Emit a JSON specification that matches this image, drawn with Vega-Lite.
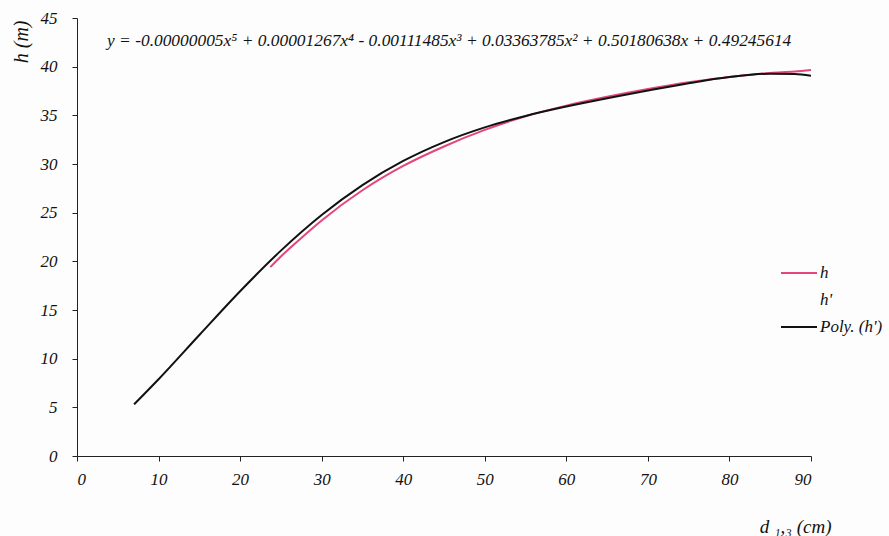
{
  "$schema": "https://vega.github.io/schema/vega-lite/v6.json",
  "width": 734,
  "height": 438,
  "autosize": {"type": "none"},
  "padding": {"left": 77, "top": 18, "right": 78, "bottom": 80},
  "background": "#fdfdfd",
  "title": {
    "text": "y = -0.00000005x⁵ + 0.00001267x⁴ - 0.00111485x³ + 0.03363785x² + 0.50180638x + 0.49245614",
    "anchor": "start",
    "frame": "group",
    "orient": "top",
    "offset": -40,
    "dx": 30,
    "font": "Liberation Serif",
    "fontSize": 17.4,
    "fontStyle": "italic",
    "fontWeight": "normal",
    "color": "#111111"
  },
  "config": {"view": {"stroke": null}, "font": "Liberation Serif"},
  "data": {
    "values": [
      {"series": "h", "d": 23.7, "h": 19.4},
      {"series": "h", "d": 25, "h": 20.5},
      {"series": "h", "d": 27.5, "h": 22.4},
      {"series": "h", "d": 30, "h": 24.2},
      {"series": "h", "d": 35, "h": 27.3},
      {"series": "h", "d": 40, "h": 29.8},
      {"series": "h", "d": 45, "h": 31.8},
      {"series": "h", "d": 50, "h": 33.5},
      {"series": "h", "d": 55, "h": 34.9},
      {"series": "h", "d": 60, "h": 36.0},
      {"series": "h", "d": 65, "h": 36.9},
      {"series": "h", "d": 70, "h": 37.7},
      {"series": "h", "d": 75, "h": 38.4},
      {"series": "h", "d": 80, "h": 38.95},
      {"series": "h", "d": 85, "h": 39.35},
      {"series": "h", "d": 88, "h": 39.5},
      {"series": "h", "d": 90, "h": 39.65},
      {"series": "Poly. (h')", "d": 7, "h": 5.3},
      {"series": "Poly. (h')", "d": 10, "h": 7.88},
      {"series": "Poly. (h')", "d": 15, "h": 12.43},
      {"series": "Poly. (h')", "d": 20, "h": 16.93},
      {"series": "Poly. (h')", "d": 25, "h": 21.1},
      {"series": "Poly. (h')", "d": 30, "h": 24.76},
      {"series": "Poly. (h')", "d": 35, "h": 27.83},
      {"series": "Poly. (h')", "d": 40, "h": 30.31},
      {"series": "Poly. (h')", "d": 45, "h": 32.25},
      {"series": "Poly. (h')", "d": 50, "h": 33.76},
      {"series": "Poly. (h')", "d": 55, "h": 34.94},
      {"series": "Poly. (h')", "d": 60, "h": 35.9},
      {"series": "Poly. (h')", "d": 65, "h": 36.75},
      {"series": "Poly. (h')", "d": 70, "h": 37.55},
      {"series": "Poly. (h')", "d": 75, "h": 38.3},
      {"series": "Poly. (h')", "d": 80, "h": 38.93},
      {"series": "Poly. (h')", "d": 85, "h": 39.28},
      {"series": "Poly. (h')", "d": 88, "h": 39.24},
      {"series": "Poly. (h')", "d": 90, "h": 39.07}
    ]
  },
  "mark": {"type": "line", "interpolate": "monotone", "strokeWidth": 2},
  "encoding": {
    "x": {
      "field": "d",
      "type": "quantitative",
      "scale": {"domain": [0, 90], "nice": false},
      "axis": {
        "values": [0, 10, 20, 30, 40, 50, 60, 70, 80, 90],
        "grid": false,
        "domainColor": "#222222",
        "tickColor": "#222222",
        "tickSize": 5,
        "labelFont": "Liberation Serif",
        "labelFontSize": 17,
        "labelFontStyle": "italic",
        "labelColor": "#111111",
        "labelPadding": 10,
        "title": "d ₁,₃ (cm)",
        "titleFont": "Liberation Serif",
        "titleFontSize": 19,
        "titleFontStyle": "italic",
        "titleFontWeight": "normal",
        "titleColor": "#111111",
        "titleX": 754,
        "titleY": 70,
        "titleAlign": "right",
        "titleBaseline": "middle"
      }
    },
    "y": {
      "field": "h",
      "type": "quantitative",
      "scale": {"domain": [0, 45], "nice": false},
      "axis": {
        "values": [0, 5, 10, 15, 20, 25, 30, 35, 40, 45],
        "grid": false,
        "domainColor": "#222222",
        "tickColor": "#222222",
        "tickSize": 5,
        "labelFont": "Liberation Serif",
        "labelFontSize": 17,
        "labelFontStyle": "italic",
        "labelColor": "#111111",
        "labelPadding": 15,
        "title": "h (m)",
        "titleFont": "Liberation Serif",
        "titleFontSize": 20,
        "titleFontStyle": "italic",
        "titleFontWeight": "normal",
        "titleColor": "#111111",
        "titleAngle": -90,
        "titleX": -56,
        "titleY": 2,
        "titleAlign": "right",
        "titleBaseline": "middle"
      }
    },
    "color": {
      "field": "series",
      "type": "nominal",
      "scale": {
        "domain": ["h", "h'", "Poly. (h')"],
        "range": ["#e5457f", "rgba(0,0,0,0)", "#111111"]
      },
      "legend": {
        "orient": "none",
        "legendX": 703,
        "legendY": 236,
        "title": null,
        "symbolType": "stroke",
        "symbolSize": 1296,
        "symbolStrokeWidth": 2,
        "labelFont": "Liberation Serif",
        "labelFontSize": 17,
        "labelFontStyle": "italic",
        "labelColor": "#111111",
        "labelOffset": 2,
        "rowPadding": -12
      }
    }
  }
}
